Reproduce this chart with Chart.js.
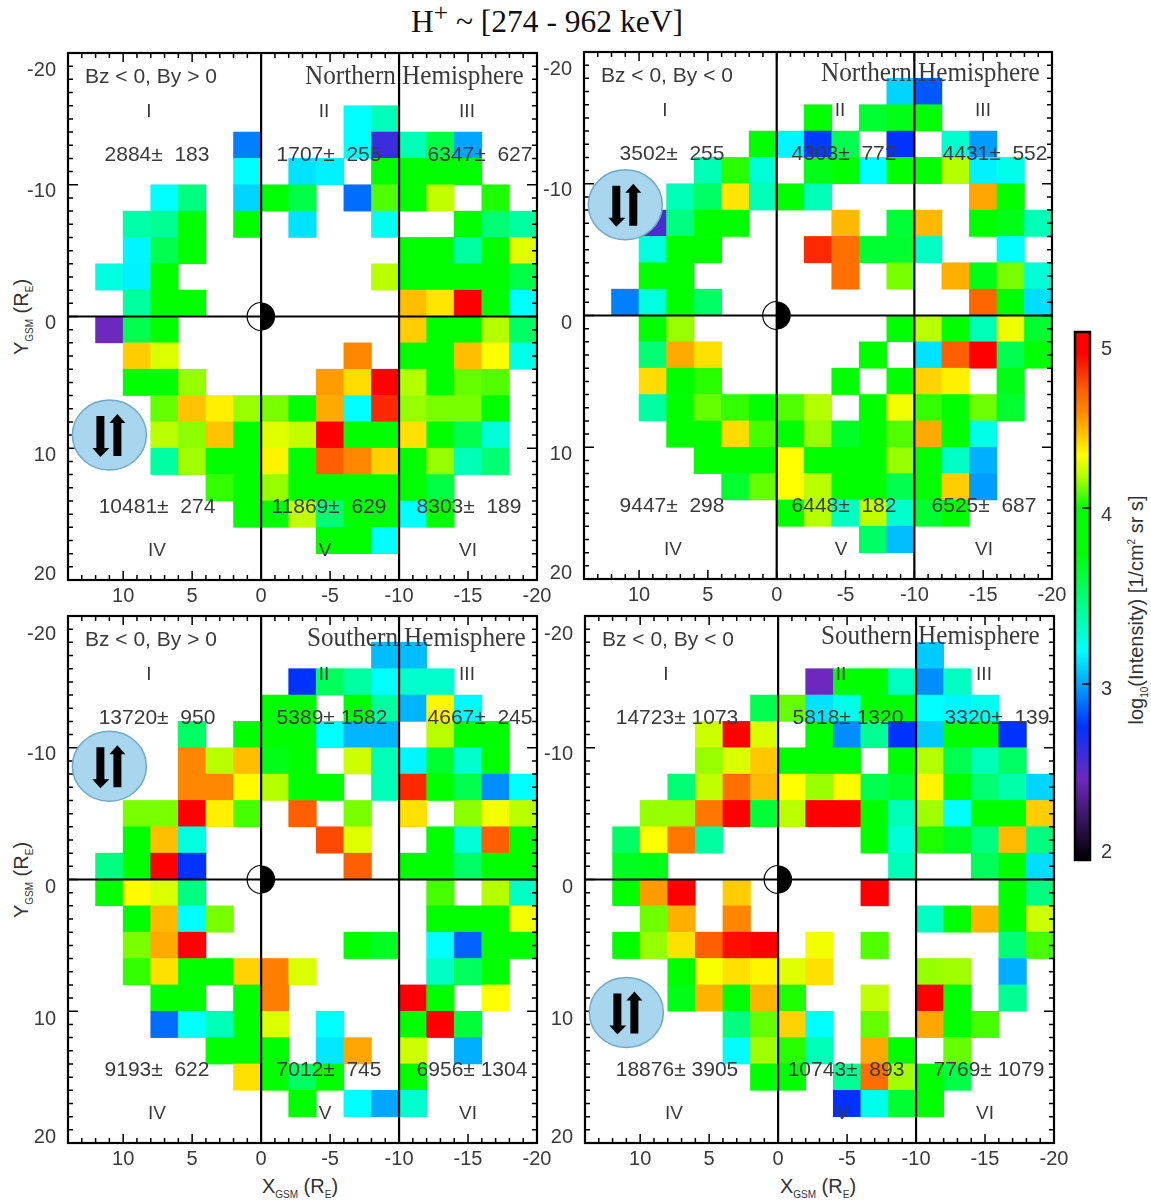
<!DOCTYPE html>
<html>
<head>
<meta charset="utf-8">
<title>H+ intensity maps</title>
<script src="https://cdn.jsdelivr.net/npm/chart.js@4/dist/chart.umd.min.js"></script>
<style>
    html, body { margin: 0; padding: 0; background: #fff; }
    body { position: relative; width: 1151px; height: 1203px; overflow: hidden; }
    canvas { position: absolute; }
    .label { position: absolute; white-space: nowrap; color: #333; font-family: "Liberation Sans", sans-serif; font-size: 20px; transform: translate(-50%, -50%); }
    .label sub { font-size: 50%; line-height: 0; }
    .label sup { font-size: 50%; line-height: 0; }
    .vertical { transform: translate(-50%, -50%) rotate(-90deg); }
    #title { color: #111; font-family: "Liberation Serif", serif; font-size: 31.5px; }
    #title sup { font-size: 80%; }
</style>
</head>
<body>
<div id="title" class="label" style="left:547px; top:22px">H<sup>+</sup> ~ [274 - 962 keV]</div>
<div class="label vertical" style="left:21px; top:317px">Y<sub>GSM</sub> (R<sub>E</sub>)</div>
<div class="label vertical" style="left:21px; top:880px">Y<sub>GSM</sub> (R<sub>E</sub>)</div>
<div class="label" style="left:300px; top:1186px">X<sub>GSM</sub> (R<sub>E</sub>)</div>
<div class="label" style="left:818px; top:1186px">X<sub>GSM</sub> (R<sub>E</sub>)</div>
<div class="label vertical" style="left:1136px; top:610px">log<sub>10</sub>(Intensity) [1/cm<sup>2</sup> sr s]</div>

<canvas id="panelNP"></canvas>
<canvas id="panelNN"></canvas>
<canvas id="panelSP"></canvas>
<canvas id="panelSN"></canvas>
<canvas id="colorBar"></canvas>

<script>
// ======================== data ========================
// bin centres, RE
const xBins = [13, 11, 9, 7, 5, 3, 1, -1, -3, -5, -7, -9, -11, -13, -15, -17, -19];
const yBins = [-19, -17, -15, -13, -11, -9, -7, -5, -3, -1, 1, 3, 5, 7, 9, 11, 13, 15, 17, 19];

const xTickValues = [10, 5, 0, -5, -10, -15, -20];
const yTickValues = [-20, -10, 0, 10, 20];
const yTickLabels = ['-20', '-10', '0', '10', '20'];
const barTickValues = [5, 4, 3, 2];
const barTickLabels = ['5', '4', '3', '2'];
const regionLabels = ['I', 'II', 'III', 'IV', 'V', 'VI'];

// log10 intensity, one object per y bin: {x bin index: value}
const northByPos = [
    {}, {},
    {10: 3.19, 11: 3.35},
    {6: 2.92, 10: 3.19, 11: 2.6, 12: 3.35, 13: 3.6, 14: 3.0},
    {6: 3.19, 8: 3.13, 9: 3.16, 11: 3.9, 12: 3.9, 13: 3.9, 14: 3.9},
    {3: 3.19, 4: 3.47, 6: 3.1, 7: 3.9, 8: 3.6, 10: 2.88, 11: 4.08, 12: 3.9, 13: 4.2, 15: 4.03},
    {2: 3.38, 3: 3.43, 4: 3.9, 6: 3.9, 8: 3.13, 11: 3.22, 14: 3.9, 15: 3.5, 16: 3.4},
    {2: 3.17, 3: 3.58, 4: 3.9, 12: 3.9, 13: 3.9, 14: 3.4, 15: 3.9, 16: 4.25},
    {1: 3.26, 2: 3.16, 3: 3.9, 11: 4.19, 12: 3.9, 13: 3.9, 14: 3.9, 15: 3.9, 16: 3.6},
    {2: 3.4, 3: 3.9, 4: 3.9, 12: 4.43, 13: 4.35, 14: 5, 15: 3.9, 16: 3.19},
    {1: 2.46, 2: 3.58, 3: 3.9, 12: 4.4, 13: 3.9, 14: 3.9, 15: 4.18, 16: 3.53},
    {2: 4.4, 3: 4.24, 10: 4.55, 12: 3.9, 13: 3.9, 14: 4.43, 15: 4.3, 16: 3.24},
    {2: 3.9, 3: 3.9, 4: 4.15, 9: 4.5, 10: 4.37, 11: 5, 12: 4.18, 13: 3.9, 14: 4.1, 15: 4.08},
    {3: 4.1, 4: 4.42, 5: 4.33, 6: 4.15, 7: 4.12, 8: 3.9, 9: 4.47, 10: 3.19, 11: 4.79, 12: 4.15, 13: 4.12, 14: 4.12, 15: 3.9},
    {3: 4.19, 4: 4.14, 5: 4.42, 6: 3.9, 7: 4.25, 8: 4.2, 9: 5, 10: 3.9, 11: 3.9, 12: 4.36, 13: 3.9, 14: 3.58, 15: 3.28},
    {3: 3.4, 4: 4.16, 5: 3.9, 6: 3.9, 7: 4.32, 8: 3.9, 9: 4.67, 10: 4.55, 11: 4.39, 12: 3.9, 13: 4.15, 14: 3.35, 15: 3.5},
    {5: 4.05, 6: 3.9, 7: 4.15, 8: 3.9, 9: 3.9, 10: 3.9, 11: 3.9, 12: 3.9, 13: 3.6},
    {6: 3.9, 7: 3.9, 8: 4.2, 9: 3.5, 10: 3.9, 11: 3.9, 12: 3.19, 13: 3.9},
    {9: 3.9, 10: 3.9, 11: 3.19},
    {}
];
const northByNeg = [
    {},
    {11: 3.1, 12: 2.84},
    {8: 3.9, 10: 3.65, 11: 3.7, 12: 3.9},
    {6: 3.9, 7: 3.17, 8: 2.78, 9: 3.58, 11: 2.75, 13: 3.3, 14: 2.98},
    {4: 3.35, 5: 4.04, 6: 3.28, 8: 3.7, 9: 3.9, 10: 3.19, 11: 3.9, 12: 3.9, 13: 4.18, 14: 3.16, 15: 3.24},
    {3: 3.35, 4: 3.53, 5: 4.35, 6: 3.35, 7: 3.9, 8: 3.35, 14: 4.48, 15: 3.9},
    {2: 2.55, 3: 3.47, 4: 3.9, 5: 3.9, 9: 4.44, 11: 3.63, 12: 4.44, 14: 3.9, 15: 3.7, 16: 3.35},
    {2: 3.26, 3: 3.9, 4: 3.9, 8: 4.79, 9: 4.62, 10: 3.65, 11: 3.65, 12: 3.33, 15: 3.2},
    {2: 3.9, 3: 3.9, 9: 4.62, 11: 4.12, 13: 4.46, 14: 3.7, 15: 4.12, 16: 3.28},
    {1: 2.92, 2: 3.26, 3: 3.9, 4: 3.53, 14: 4.65, 15: 3.9, 16: 3.12},
    {2: 3.9, 3: 4.15, 11: 3.9, 12: 4.19, 13: 3.9, 14: 3.35, 15: 4.27, 16: 3.65},
    {2: 3.5, 3: 4.47, 4: 4.36, 10: 3.9, 12: 3.13, 13: 4.67, 14: 5, 15: 3.58, 16: 3.9},
    {2: 4.37, 3: 3.9, 4: 4.04, 9: 3.9, 11: 3.9, 12: 4.39, 13: 4.33, 15: 3.7},
    {2: 3.4, 3: 3.9, 4: 4.1, 5: 4.05, 6: 3.9, 7: 4.08, 8: 4.18, 10: 3.9, 11: 4.28, 12: 4.05, 13: 3.9, 14: 4.11, 15: 3.65},
    {3: 3.9, 4: 3.9, 5: 4.37, 6: 4.07, 7: 3.9, 8: 4.15, 9: 3.66, 10: 3.9, 11: 4.08, 12: 4.47, 13: 3.9, 14: 3.24},
    {4: 3.9, 5: 3.9, 6: 3.9, 7: 4.3, 8: 3.9, 9: 3.9, 10: 3.9, 11: 4.15, 12: 3.9, 13: 3.32, 14: 3.02},
    {5: 3.65, 6: 4.1, 7: 4.3, 8: 4.19, 9: 3.9, 10: 3.9, 11: 3.58, 12: 3.9, 13: 4.4, 14: 2.98},
    {7: 3.9, 8: 4.18, 9: 3.33, 10: 4.2, 11: 3.3, 12: 3.65, 13: 3.9},
    {10: 3.53, 11: 3.05},
    {}
];
const southByPos = [
    {},
    {11: 3.05, 12: 3.05},
    {8: 2.76, 9: 3.55, 10: 3.4, 11: 3.19, 12: 3.3, 13: 3.3},
    {7: 3.9, 8: 3.9, 10: 3.9, 11: 3.4, 12: 3.03, 13: 4.32, 14: 3.18},
    {4: 3.53, 6: 3.9, 7: 3.9, 8: 3.9, 9: 3.19, 10: 3.03, 11: 3.03, 13: 4.19, 14: 3.9, 15: 3.9},
    {4: 4.55, 5: 4.19, 6: 4.43, 7: 3.7, 8: 3.9, 10: 4.22, 11: 3.35, 12: 3.17, 13: 3.65, 14: 3.3, 15: 3.9},
    {4: 4.55, 5: 4.55, 6: 4.31, 7: 4.18, 8: 3.9, 9: 3.9, 11: 3.35, 12: 4.79, 13: 3.9, 14: 3.58, 15: 2.95, 16: 3.19},
    {2: 4.12, 3: 4.12, 4: 5, 5: 4.33, 6: 4.07, 8: 4.67, 10: 4.12, 12: 4.36, 14: 4.14, 15: 4.28, 16: 4.19},
    {2: 3.9, 3: 4.43, 4: 3.26, 9: 4.72, 10: 4.25, 13: 3.9, 14: 3.28, 15: 4.67, 16: 3.9},
    {1: 3.47, 2: 3.9, 3: 5, 4: 2.76, 10: 4.67, 12: 3.9, 13: 3.9, 14: 3.53, 15: 3.9, 16: 3.9},
    {1: 3.9, 2: 4.31, 3: 4.24, 4: 3.47, 13: 4.07, 15: 4.18, 16: 3.32},
    {2: 3.9, 3: 4.44, 4: 3.19, 5: 4.12, 13: 3.9, 14: 4.0, 15: 3.9, 16: 4.28},
    {2: 4.12, 3: 4.47, 4: 5, 10: 3.9, 11: 3.68, 13: 3.19, 14: 2.86, 15: 3.9, 16: 3.9},
    {2: 4.05, 3: 4.36, 4: 3.9, 5: 3.9, 6: 4.39, 7: 4.58, 8: 4.24, 13: 3.32, 14: 3.55, 15: 3.9},
    {3: 3.9, 4: 3.9, 6: 3.9, 7: 4.58, 12: 5, 13: 3.9, 15: 4.3},
    {3: 2.88, 4: 3.19, 5: 3.35, 6: 3.9, 7: 4.24, 9: 3.19, 12: 3.9, 13: 5, 14: 3.63},
    {5: 3.9, 6: 3.9, 7: 3.9, 9: 3.14, 10: 4.48, 12: 4.22, 14: 3.02},
    {6: 4.36, 7: 3.9, 8: 3.53, 9: 3.9, 12: 3.9},
    {8: 3.9, 10: 3.19, 11: 3.0, 12: 3.3},
    {}
];
const southByNeg = [
    {},
    {12: 3.08},
    {8: 2.46, 9: 3.9, 10: 3.9, 11: 3.33, 12: 2.95, 13: 3.33},
    {6: 3.58, 7: 4.1, 8: 3.13, 9: 3.24, 10: 3.9, 11: 3.9, 12: 3.19, 13: 3.17, 14: 3.22},
    {4: 4.22, 5: 5, 6: 4.24, 8: 3.9, 9: 2.95, 10: 3.43, 11: 2.76, 12: 3.08, 13: 3.9, 14: 3.9, 15: 2.76},
    {4: 4.15, 5: 4.24, 6: 4.41, 7: 3.9, 8: 3.9, 9: 3.9, 11: 3.9, 12: 4.18, 13: 3.58, 14: 3.35, 15: 3.53},
    {3: 3.5, 4: 4.2, 5: 4.62, 6: 4.44, 7: 4.3, 8: 4.15, 9: 4.31, 10: 3.58, 11: 3.65, 12: 4.32, 13: 3.9, 14: 3.5, 15: 3.38, 16: 3.1},
    {2: 4.15, 3: 4.15, 4: 4.6, 5: 5, 6: 3.63, 7: 4.19, 8: 5, 9: 5, 10: 3.9, 11: 3.35, 12: 4.16, 13: 3.19, 14: 3.9, 15: 3.9, 16: 4.4},
    {1: 3.53, 2: 4.3, 3: 4.6, 4: 3.4, 10: 3.9, 11: 3.28, 12: 4.03, 13: 3.68, 14: 3.47, 15: 4.44, 16: 3.47},
    {1: 3.68, 2: 3.7, 11: 3.35, 14: 3.55, 15: 3.9, 16: 3.12},
    {1: 3.9, 2: 4.5, 3: 5, 5: 4.4, 10: 5, 15: 3.9, 16: 3.47},
    {2: 4.11, 3: 4.46, 5: 4.55, 12: 3.33, 13: 3.9, 14: 4.45, 15: 3.9, 16: 4.22},
    {1: 3.9, 2: 4.15, 3: 4.36, 4: 4.67, 5: 4.85, 6: 5, 8: 4.28, 10: 4.08, 15: 3.5, 16: 4.07},
    {3: 3.9, 4: 4.29, 5: 4.36, 6: 4.32, 7: 4.25, 8: 4.36, 12: 4.15, 13: 4.16, 15: 3.02},
    {3: 3.7, 4: 4.45, 5: 3.9, 6: 4.45, 7: 4.03, 10: 4.2, 12: 5, 13: 3.9, 15: 3.43},
    {5: 3.47, 6: 4.1, 7: 4.39, 8: 3.19, 10: 4.1, 12: 4.48, 13: 3.9, 14: 4.07},
    {5: 3.2, 6: 4.16, 7: 4.04, 8: 3.35, 10: 4.47, 11: 3.9, 13: 4.1},
    {6: 3.9, 7: 3.9, 9: 3.43, 10: 4.63, 11: 4.16, 12: 3.9, 13: 3.6},
    {9: 2.76, 10: 3.24, 11: 3.65, 12: 3.9},
    {}
];

const countsNP = ['2884±  183', '1707±  255', '6347±  627', '10481±  274', '11869±  629', '8303±  189'];
const countsNN = ['3502±  255', '4303±  772', '4431±  552', '9447±  298', '6448±  182', '6525±  687'];
const countsSP = ['13720±  950', '5389± 1582', '4667±  245', '9193±  622', '7012±  745', '6956± 1304'];
const countsSN = ['14723± 1073', '5818± 1320', '3320±  139', '18876± 3905', '10743±  893', '7769± 1079'];

// colour table of the bar: value, r, g, b
const colourStops = [
    [2.0, 0, 0, 0], [2.46, 110, 40, 190], [2.76, 0, 50, 255], [2.92, 0, 128, 255],
    [3.19, 0, 255, 255], [3.47, 0, 255, 128], [3.75, 0, 255, 0], [4.0, 0, 255, 0],
    [4.18, 180, 255, 0], [4.3, 255, 255, 0], [4.47, 255, 170, 0], [4.55, 255, 135, 0],
    [4.67, 255, 95, 0], [4.88, 255, 0, 0], [5.0, 255, 0, 0]
];

// ======================== helpers ========================
function colourOf(v) {
    for (let i = 1; i < colourStops.length; i++) {
        const a = colourStops[i - 1], b = colourStops[i];
        if (v <= b[0]) {
            const t = Math.max(0, (v - a[0]) / (b[0] - a[0]));
            return `rgb(${Math.round(a[1] + (b[1] - a[1]) * t)},${Math.round(a[2] + (b[2] - a[2]) * t)},${Math.round(a[3] + (b[3] - a[3]) * t)})`;
        }
    }
    return 'rgb(255,0,0)';
}

function cellsFrom(rows) {
    const cells = [];
    rows.forEach((row, r) => {
        Object.keys(row).forEach(c => {
            cells.push({ x: xBins[c], y: [yBins[r] - 1, yBins[r] + 1], v: row[c] });
        });
    });
    return cells;
}

function drawText(ctx, str, x, y, font, align, stretch) {
    ctx.save();
    ctx.font = font;
    ctx.fillStyle = '#3a3a3a';
    ctx.textAlign = align || 'center';
    ctx.textBaseline = 'middle';
    ctx.translate(x, y);
    if (stretch) ctx.scale(stretch, 1);
    ctx.fillText(str, 0, 0);
    ctx.restore();
}

function drawTicks(ctx, area, xs, ys) {
    ctx.strokeStyle = '#000';
    ctx.lineWidth = 1.5;
    ctx.beginPath();
    for (let v = -20; v <= 14; v++) {
        const px = xs.getPixelForValue(v);
        const len = v % 5 === 0 ? 9 : 5;
        ctx.moveTo(px, area.top); ctx.lineTo(px, area.top + len);
        ctx.moveTo(px, area.bottom); ctx.lineTo(px, area.bottom - len);
    }
    for (let v = -20; v <= 20; v++) {
        const py = ys.getPixelForValue(v);
        const len = v % 10 === 0 ? 10 : 5;
        ctx.moveTo(area.left, py); ctx.lineTo(area.left + len, py);
        ctx.moveTo(area.right, py); ctx.lineTo(area.right - len, py);
    }
    ctx.stroke();
}

function drawIcon(ctx, cx, cy) {
    ctx.beginPath();
    ctx.ellipse(cx, cy, 37, 35, 0, 0, Math.PI * 2);
    ctx.fillStyle = '#a9d6ef';
    ctx.fill();
    ctx.strokeStyle = '#6fa9c9';
    ctx.lineWidth = 1.5;
    ctx.stroke();
    ctx.fillStyle = '#000';
    // down arrow
    ctx.beginPath();
    ctx.moveTo(cx - 13, cy - 19); ctx.lineTo(cx - 5, cy - 19); ctx.lineTo(cx - 5, cy + 13);
    ctx.lineTo(cx, cy + 13); ctx.lineTo(cx - 9, cy + 22); ctx.lineTo(cx - 17, cy + 13);
    ctx.lineTo(cx - 13, cy + 13);
    ctx.closePath();
    ctx.fill();
    // up arrow
    ctx.beginPath();
    ctx.moveTo(cx + 4, cy + 21); ctx.lineTo(cx + 12, cy + 21); ctx.lineTo(cx + 12, cy - 12);
    ctx.lineTo(cx + 16, cy - 12); ctx.lineTo(cx + 8, cy - 21); ctx.lineTo(cx, cy - 12);
    ctx.lineTo(cx + 4, cy - 12);
    ctx.closePath();
    ctx.fill();
}

// frame, cross lines, moon marker, texts, all placed from the chart's scales
const panelDecor = {
    id: 'panelDecor',
    afterDatasetsDraw(chart, args, opts) {
        const ctx = chart.ctx, area = chart.chartArea;
        const xs = chart.scales.x, ys = chart.scales.y;
        const x0 = xs.getPixelForValue(0), y0 = ys.getPixelForValue(0);
        const x10 = xs.getPixelForValue(-10);

        ctx.save();
        ctx.strokeStyle = '#000';
        ctx.lineWidth = 2.2;
        ctx.strokeRect(area.left, area.top, area.width, area.height);
        ctx.beginPath();
        ctx.moveTo(x0, area.top); ctx.lineTo(x0, area.bottom);
        ctx.moveTo(x10, area.top); ctx.lineTo(x10, area.bottom);
        ctx.moveTo(area.left, y0); ctx.lineTo(area.right, y0);
        ctx.stroke();
        drawTicks(ctx, area, xs, ys);

        // earth marker
        ctx.beginPath();
        ctx.arc(x0, y0, 14, Math.PI / 2, Math.PI * 1.5);
        ctx.strokeStyle = '#000';
        ctx.lineWidth = 1.2;
        ctx.stroke();
        ctx.beginPath();
        ctx.arc(x0, y0, 14, -Math.PI / 2, Math.PI / 2);
        ctx.closePath();
        ctx.fillStyle = '#000';
        ctx.fill();

        drawIcon(ctx, xs.getPixelForValue(opts.icon[0]), ys.getPixelForValue(opts.icon[1]));

        // y tick labels are set off from their ticks in the original
        yTickValues.forEach((v, i) => {
            drawText(ctx, yTickLabels[i], area.left - 12, ys.getPixelForValue(v) + opts.yNudge[i], '20px "Liberation Sans"', 'right');
        });

        const left = area.left, top = area.top;
        drawText(ctx, opts.imf, left + 17, top + 24, '21px "Liberation Sans"', 'left');
        drawText(ctx, opts.hemi[0], left + opts.hemi[1], top + opts.hemi[3], '28px "Liberation Serif"', 'left', 0.9);
        drawText(ctx, 'Hemisphere', left + opts.hemi[2], top + opts.hemi[3], '28px "Liberation Serif"', 'left', 0.9);
        const romanX = [81, 256, 399, 89, 257, 400];
        regionLabels.forEach((s, i) => {
            drawText(ctx, s, left + romanX[i], top + (i < 3 ? 59 : 498), '19px "Liberation Sans"');
            drawText(ctx, opts.counts[i], left + opts.countX[i], top + (i < 3 ? 102 : 454), '21px "Liberation Sans"');
        });
        ctx.restore();
    }
};

// ======================== charts ========================
function makePanel(id, box, rows, opts) {
    const pad = { left: 60, right: 24, top: 20, bottom: 34 };
    const canvas = document.getElementById(id);
    canvas.width = box.w + pad.left + pad.right;
    canvas.height = box.h + pad.top + pad.bottom;
    canvas.style.left = (box.x - pad.left) + 'px';
    canvas.style.top = (box.y - pad.top) + 'px';

    new Chart(canvas, {
        type: 'bar',
        data: {
            datasets: [{
                data: cellsFrom(rows),
                backgroundColor: c => c.raw ? colourOf(c.raw.v) : '#fff',
                barThickness: box.w / 34 * 2,
                grouped: false
            }]
        },
        options: {
            responsive: false,
            animation: false,
            events: [],
            layout: { padding: { left: pad.left, right: pad.right, top: pad.top, bottom: 0 } },
            plugins: { legend: { display: false }, tooltip: { enabled: false }, panelDecor: opts },
            scales: {
                x: {
                    type: 'linear',
                    offset: false,
                    reverse: true,
                    min: -20,
                    max: 14,
                    grid: { display: false, offset: false, drawTicks: false },
                    border: { display: false },
                    afterBuildTicks: axis => { axis.ticks = xTickValues.map(v => ({ value: v })); },
                    afterFit: axis => { axis.height = pad.bottom; },
                    ticks: {
                        autoSkip: false,
                        maxRotation: 0,
                        padding: 4,
                        color: '#3a3a3a',
                        font: { family: 'Liberation Sans', size: 20 },
                        callback: v => String(v)
                    }
                },
                y: { type: 'linear', display: false, reverse: true, min: -20, max: 20, beginAtZero: false }
            }
        },
        plugins: [panelDecor]
    });
}

makePanel('panelNP', { x: 68, y: 53, w: 469, h: 527 }, northByPos, {
    imf: 'Bz < 0, By > 0', hemi: ['Northern', 237, 334, 24], counts: countsNP,
    countX: [89, 261, 412, 89, 261, 401], icon: [11, 9], yNudge: [17, 7, 7, 7, -6]
});
makePanel('panelNN', { x: 584, y: 52, w: 468, h: 527 }, northByNeg, {
    imf: 'Bz < 0, By < 0', hemi: ['Northern', 237, 334, 22], counts: countsNN,
    countX: [88, 260, 411, 88, 260, 400], icon: [11, -8.4], yNudge: [17, 7, 8, 7, -6]
});
makePanel('panelSP', { x: 68, y: 616, w: 469, h: 527 }, southByPos, {
    imf: 'Bz < 0, By > 0', hemi: ['Southern', 239, 336, 23], counts: countsSP,
    countX: [89, 264, 412, 89, 261, 404], icon: [11, -8.6], yNudge: [18, 7, 8, 8, -6]
});
makePanel('panelSN', { x: 585, y: 616, w: 469, h: 527 }, southByNeg, {
    imf: 'Bz < 0, By < 0', hemi: ['Southern', 236, 333, 21], counts: countsSN,
    countX: [92, 263, 412, 92, 261, 404], icon: [11, 10.1], yNudge: [18, 7, 8, 8, -6]
});

// colour bar
const barCanvas = document.getElementById('colorBar');
barCanvas.width = 90;
barCanvas.height = 560;
barCanvas.style.left = '1060px';
barCanvas.style.top = '320px';

const barDecor = {
    id: 'barDecor',
    afterDatasetsDraw(chart) {
        const ctx = chart.ctx, area = chart.chartArea, ys = chart.scales.y;
        ctx.save();
        ctx.strokeStyle = '#000';
        ctx.lineWidth = 2.5;
        ctx.strokeRect(area.left, area.top, area.width, area.height);
        ctx.lineWidth = 1.5;
        ctx.beginPath();
        [3, 4].forEach(v => {
            ctx.moveTo(area.right - 8, ys.getPixelForValue(v));
            ctx.lineTo(area.right, ys.getPixelForValue(v));
        });
        ctx.stroke();
        const nudge = [17, 7, 5, -8];
        barTickValues.forEach((v, i) => {
            drawText(ctx, barTickLabels[i], area.right + 11, ys.getPixelForValue(v) + nudge[i], '20px "Liberation Sans"', 'left');
        });
        ctx.restore();
    }
};

new Chart(barCanvas, {
    type: 'bar',
    data: {
        labels: ['intensity'],
        datasets: [{
            data: [[2, 5]],
            barPercentage: 1,
            categoryPercentage: 1,
            backgroundColor: c => {
                const chart = c.chart, ys = chart.scales.y;
                if (!chart.chartArea || !ys) return '#000';
                const grad = chart.ctx.createLinearGradient(0, ys.getPixelForValue(2), 0, ys.getPixelForValue(5));
                colourStops.forEach(s => grad.addColorStop((s[0] - 2) / 3, `rgb(${s[1]},${s[2]},${s[3]})`));
                return grad;
            }
        }]
    },
    options: {
        responsive: false,
        animation: false,
        events: [],
        layout: { padding: { left: 15, right: 60, top: 12, bottom: 20 } },
        plugins: { legend: { display: false }, tooltip: { enabled: false } },
        scales: {
            x: { display: false },
            y: { display: false, min: 2, max: 5 }
        }
    },
    plugins: [barDecor]
});
</script>
</body>
</html>
